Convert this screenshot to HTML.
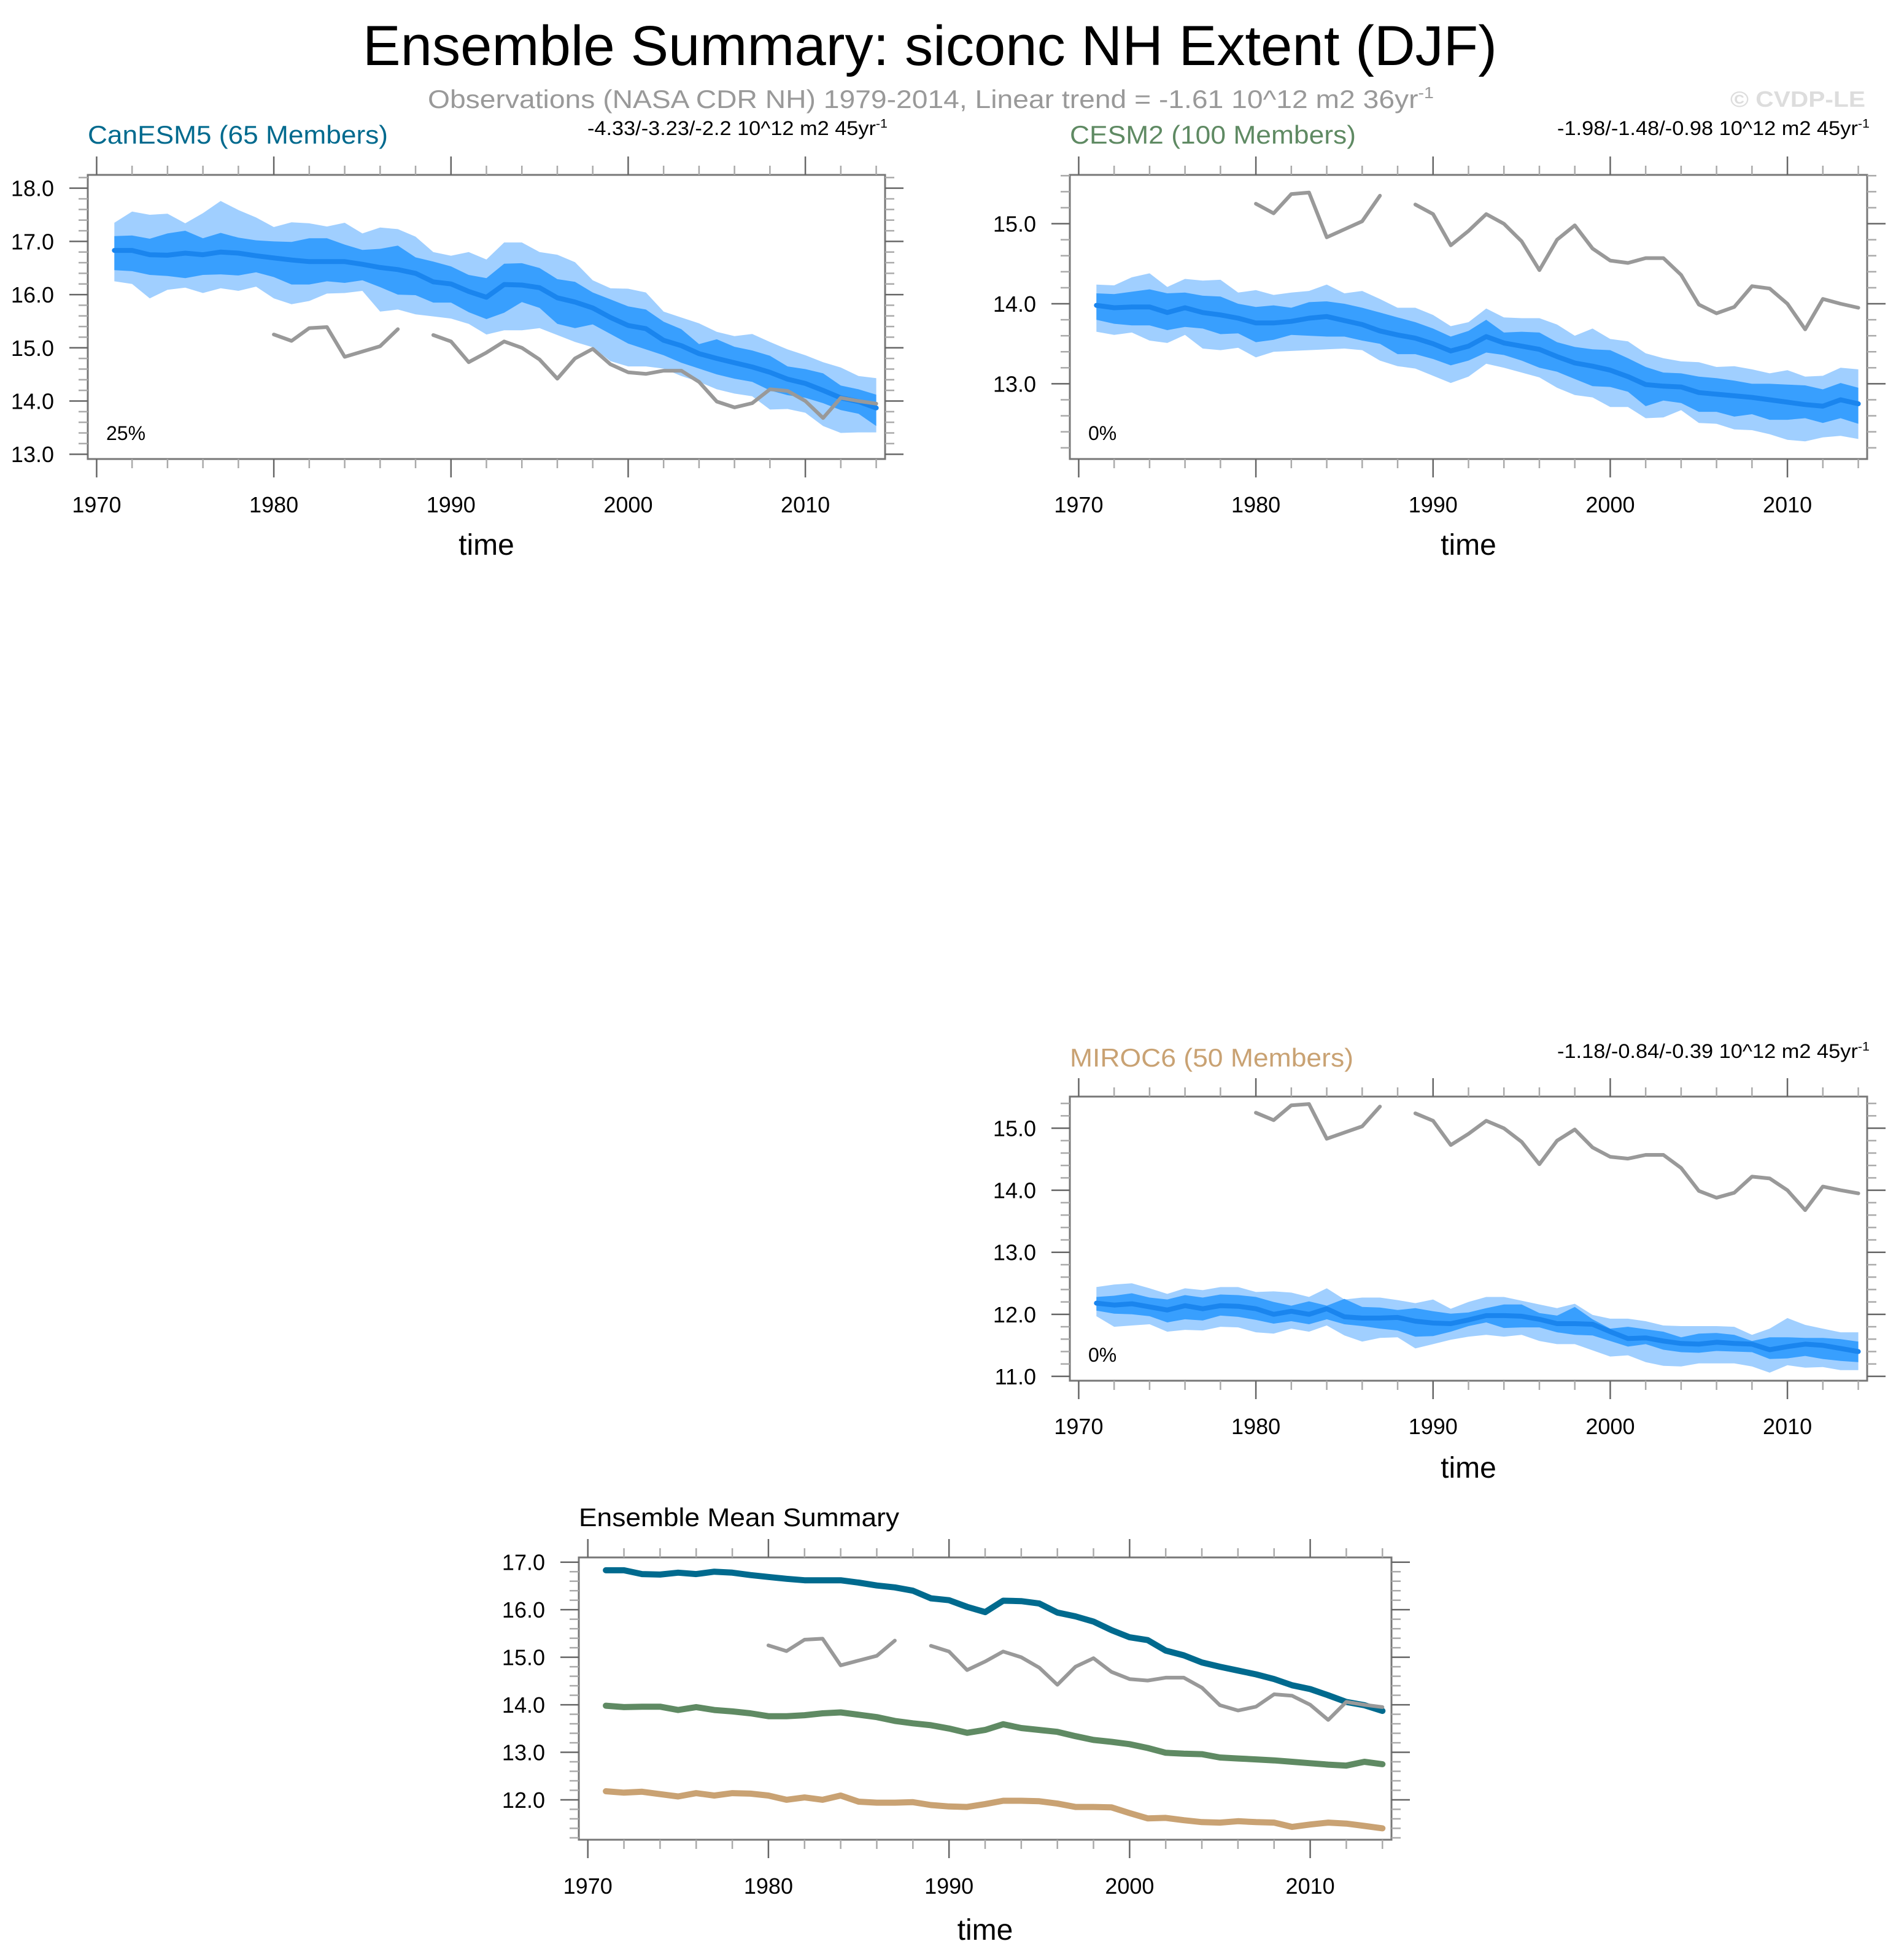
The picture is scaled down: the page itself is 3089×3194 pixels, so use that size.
<!DOCTYPE html>
<html><head><meta charset="utf-8"><title>Ensemble Summary</title>
<style>html,body{margin:0;padding:0;background:#fff}svg{display:block}</style></head>
<body>
<svg id="chart" xmlns="http://www.w3.org/2000/svg" width="3089" height="3194" viewBox="0 0 3089 3194" font-family="Liberation Sans, sans-serif">
<rect width="3089" height="3194" fill="#fff"/>
<text x="1515" y="106" font-size="92" text-anchor="middle" textLength="1848" lengthAdjust="spacingAndGlyphs">Ensemble Summary: siconc NH Extent (DJF)</text>
<text x="697" y="176" font-size="42" fill="#999" textLength="1639" lengthAdjust="spacingAndGlyphs">Observations (NASA CDR NH) 1979-2014, Linear trend = -1.61 10^12 m2 36yr<tspan font-size="26" dy="-16">-1</tspan></text>
<text x="2819" y="174" font-size="36" font-weight="bold" fill="#ddd" textLength="220" lengthAdjust="spacingAndGlyphs">© CVDP-LE</text>
<g id="plots"></g>
</svg>
<script>
const years = [];
for (let y = 1971; y <= 2014; y++) years.push(y);
const obsYears = [];
for (let y = 1980; y <= 2014; y++) obsYears.push(y);
const obs = [15.25,15.13,15.37,15.39,14.83,14.93,15.03,15.35,null,15.24,15.12,14.73,14.91,15.12,15.00,14.78,14.42,14.80,14.98,14.69,14.54,14.51,14.57,14.57,14.36,13.99,13.88,13.96,14.22,14.19,14.00,13.68,14.06,14.00,13.95];

const canMean = [16.83,16.83,16.75,16.74,16.78,16.75,16.80,16.78,16.73,16.69,16.65,16.62,16.62,16.62,16.57,16.51,16.47,16.40,16.24,16.20,16.06,15.95,16.19,16.18,16.13,15.94,15.86,15.75,15.57,15.42,15.36,15.14,15.04,14.89,14.80,14.72,14.64,14.54,14.41,14.33,14.20,14.06,13.99,13.87];
const canDarkHi = [17.10,17.11,17.05,17.15,17.20,17.06,17.16,17.07,17.02,17.00,16.99,17.06,17.06,16.94,16.84,16.86,16.92,16.70,16.62,16.53,16.37,16.31,16.58,16.59,16.50,16.29,16.24,16.04,15.91,15.78,15.72,15.49,15.35,15.07,15.16,15.02,14.95,14.85,14.65,14.60,14.52,14.29,14.22,14.12];
const canDarkLo = [16.46,16.44,16.37,16.35,16.31,16.37,16.38,16.36,16.42,16.33,16.19,16.19,16.25,16.22,16.27,16.14,16.00,15.99,15.85,15.85,15.67,15.54,15.66,15.86,15.75,15.45,15.37,15.44,15.26,15.08,14.97,14.86,14.72,14.61,14.50,14.42,14.36,14.20,14.11,14.06,13.96,13.83,13.76,13.53];
const canLightHi = [17.35,17.56,17.50,17.52,17.34,17.53,17.76,17.59,17.45,17.27,17.36,17.34,17.28,17.35,17.15,17.26,17.23,17.09,16.80,16.73,16.80,16.66,16.98,16.98,16.80,16.75,16.61,16.27,16.12,16.11,16.04,15.68,15.57,15.46,15.30,15.22,15.26,15.11,14.97,14.86,14.73,14.63,14.47,14.43];
const canLightLo = [16.25,16.20,15.93,16.09,16.13,16.03,16.12,16.07,16.15,15.93,15.82,15.88,16.02,16.03,16.07,15.68,15.72,15.63,15.59,15.55,15.45,15.25,15.33,15.33,15.37,15.24,15.11,15.01,14.75,14.65,14.65,14.61,14.47,14.36,14.22,14.14,14.09,13.84,13.85,13.78,13.53,13.40,13.41,13.41];

const cesmMean = [13.98,13.95,13.96,13.96,13.89,13.95,13.89,13.86,13.82,13.76,13.76,13.78,13.82,13.84,13.79,13.74,13.66,13.61,13.57,13.50,13.41,13.47,13.59,13.51,13.47,13.43,13.34,13.26,13.22,13.17,13.09,12.99,12.97,12.96,12.89,12.87,12.85,12.83,12.80,12.77,12.74,12.72,12.80,12.75];
const cesmDarkHi = [14.13,14.12,14.15,14.18,14.13,14.14,14.10,14.09,14.00,13.96,13.98,13.95,14.02,14.03,14.00,13.95,13.89,13.83,13.77,13.69,13.59,13.66,13.80,13.64,13.65,13.64,13.52,13.46,13.43,13.42,13.32,13.21,13.14,13.13,13.09,13.07,13.04,13.00,13.00,12.99,12.98,12.93,13.01,12.95];
const cesmDarkLo = [13.80,13.75,13.73,13.73,13.67,13.71,13.69,13.62,13.63,13.52,13.55,13.61,13.60,13.59,13.59,13.54,13.50,13.37,13.37,13.31,13.23,13.29,13.39,13.36,13.29,13.20,13.15,13.06,12.97,12.96,12.90,12.72,12.79,12.76,12.65,12.65,12.59,12.62,12.55,12.55,12.57,12.51,12.57,12.50];
const cesmLightHi = [14.24,14.23,14.33,14.38,14.21,14.31,14.29,14.30,14.14,14.17,14.11,14.14,14.16,14.24,14.13,14.16,14.06,13.95,13.95,13.86,13.72,13.77,13.94,13.83,13.82,13.82,13.74,13.60,13.69,13.56,13.53,13.38,13.32,13.28,13.27,13.21,13.22,13.18,13.13,13.17,13.09,13.10,13.20,13.18];
const cesmLightLo = [13.65,13.61,13.64,13.54,13.51,13.61,13.44,13.42,13.45,13.33,13.40,13.41,13.42,13.43,13.44,13.42,13.29,13.22,13.19,13.10,13.01,13.09,13.25,13.20,13.14,13.08,12.95,12.86,12.83,12.71,12.71,12.57,12.58,12.67,12.51,12.50,12.43,12.42,12.37,12.30,12.28,12.33,12.35,12.31];

const mirocMean = [12.18,12.15,12.17,12.12,12.07,12.14,12.09,12.14,12.13,12.09,12.00,12.05,12.00,12.09,11.96,11.94,11.94,11.95,11.89,11.86,11.85,11.91,11.98,11.98,11.97,11.92,11.85,11.85,11.84,11.72,11.61,11.62,11.57,11.53,11.52,11.55,11.53,11.52,11.43,11.48,11.52,11.50,11.45,11.40];
const mirocDarkHi = [12.28,12.30,12.34,12.27,12.24,12.31,12.27,12.32,12.31,12.28,12.20,12.14,12.21,12.14,12.25,12.12,12.11,12.07,12.10,12.05,12.01,12.03,12.10,12.16,12.16,12.02,11.98,12.12,11.92,11.77,11.80,11.76,11.72,11.63,11.69,11.70,11.67,11.57,11.63,11.63,11.62,11.62,11.60,11.56];
const mirocDarkLo = [12.06,12.01,12.00,11.97,11.87,11.92,11.90,11.98,11.96,11.91,11.85,11.89,11.84,11.92,11.84,11.81,11.77,11.74,11.64,11.65,11.72,11.81,11.87,11.78,11.79,11.79,11.71,11.67,11.66,11.57,11.48,11.52,11.43,11.39,11.38,11.41,11.40,11.39,11.28,11.29,11.33,11.28,11.25,11.23];
const mirocLightHi = [12.44,12.48,12.50,12.42,12.33,12.42,12.39,12.44,12.44,12.36,12.37,12.35,12.28,12.42,12.24,12.27,12.27,12.23,12.18,12.24,12.09,12.20,12.28,12.28,12.22,12.16,12.10,12.17,11.99,11.93,11.93,11.89,11.82,11.81,11.81,11.81,11.80,11.67,11.77,11.94,11.83,11.77,11.71,11.71];
const mirocLightLo = [11.97,11.80,11.82,11.84,11.72,11.75,11.74,11.80,11.79,11.71,11.69,11.77,11.72,11.82,11.66,11.56,11.62,11.63,11.45,11.52,11.59,11.64,11.67,11.64,11.67,11.57,11.52,11.52,11.42,11.32,11.34,11.23,11.17,11.16,11.21,11.21,11.21,11.16,11.06,11.18,11.14,11.15,11.10,11.10];

const xTickLabels = ["1970","1980","1990","2000","2010"];
const yTicks1 = ["13.0","14.0","15.0","16.0","17.0","18.0"];
const yTicks2 = ["13.0","14.0","15.0"];
const yTicks3 = ["11.0","12.0","13.0","14.0","15.0"];
const yTicks4 = ["12.0","13.0","14.0","15.0","16.0","17.0"];

const NS = "http://www.w3.org/2000/svg";
const root = document.getElementById('plots');
function mk(tag, attrs, parent) {
  const e = document.createElementNS(NS, tag);
  for (const k in attrs) e.setAttribute(k, attrs[k]);
  (parent || root).appendChild(e);
  return e;
}

function panel(p) {
  const g = mk('g', {});
  
  
  const x0 = p.left, x1 = p.left + p.w, y0 = p.top, y1 = p.top + p.h;
  const X = v => x0 + (v - 1969.5) / 45 * p.w;
  const Y = v => y1 - (v - p.ymin) / (p.ymax - p.ymin) * p.h;
  const cid = 'clip-' + p.name;
  const cp = mk('clipPath', {id: cid}, g);
  mk('rect', {x: x0, y: y0, width: p.w, height: p.h}, cp);
  const data = mk('g', {'clip-path': 'url(#' + cid + ')'}, g);
  function band(hi, lo, color, nm) {
    let d = '';
    years.forEach((yr, i) => { d += (i ? 'L' : 'M') + X(yr).toFixed(1) + ',' + Y(hi[i]).toFixed(1); });
    for (let i = years.length - 1; i >= 0; i--) d += 'L' + X(years[i]).toFixed(1) + ',' + Y(lo[i]).toFixed(1);
    const e = mk('path', {d: d + 'Z', fill: color}, data);
    
    
  }
  function line(xs, vals, color, wdt, nm) {
    let d = '', pen = false;
    xs.forEach((yr, i) => {
      const v = vals[i];
      if (v === null) { pen = false; return; }
      d += (pen ? 'L' : 'M') + X(yr).toFixed(1) + ',' + Y(v).toFixed(1);
      pen = true;
    });
    const e = mk('path', {d: d, fill: 'none', stroke: color, 'stroke-width': wdt, 'stroke-linejoin': 'round', 'stroke-linecap': 'round'}, data);
    
    
  }
  if (p.bands) {
    band(p.bands.lh, p.bands.ll, '#a0cfff', 'outer-range-band');
    band(p.bands.dh, p.bands.dl, '#389ffe', 'inner-range-band');
    line(years, p.bands.m, '#1a85ee', 8, 'ensemble-mean-line');
  }
  if (p.lines) p.lines.forEach(l => line(years, l.v, l.c, 10, l.n));
  line(obsYears, obs, '#999', 6, 'observations-line');
  const fr = mk('rect', {x: x0, y: y0, width: p.w, height: p.h, fill: 'none', stroke: '#777', 'stroke-width': 3}, g);
  
  
  for (let yr = 1970; yr <= 2014; yr += 2) {
    const maj = yr % 10 === 0, len = maj ? 30 : 15, x = X(yr);
    const col = maj ? '#666' : '#aaa';
    mk('line', {x1: x, x2: x, y1: y0, y2: y0 - len, stroke: col, 'stroke-width': 2.5}, g);
    mk('line', {x1: x, x2: x, y1: y1, y2: y1 + len, stroke: col, 'stroke-width': 2.5}, g);
  }
  xTickLabels.forEach(lbl => {
    const t = mk('text', {x: X(+lbl), y: y1 + p.xlabOff, 'font-size': 36, 'text-anchor': 'middle'}, g);
    t.textContent = lbl;
    
    
  });
  const start = Math.ceil(p.ymin * 5 - 1e-6), end = Math.floor(p.ymax * 5 + 1e-6);
  for (let k = start; k <= end; k++) {
    const v = k / 5, yy = Y(v), maj = k % 5 === 0, len = maj ? 30 : 15;
    const col = maj ? '#666' : '#aaa';
    mk('line', {x1: x0, x2: x0 - len, y1: yy, y2: yy, stroke: col, 'stroke-width': 2.5}, g);
    mk('line', {x1: x1, x2: x1 + len, y1: yy, y2: yy, stroke: col, 'stroke-width': 2.5}, g);
  }
  p.yt.forEach(lbl => {
    const t = mk('text', {x: x0 - 55, y: Y(+lbl) + 13, 'font-size': 36, 'text-anchor': 'end'}, g);
    t.textContent = lbl;
    
    
  });
  const tt = mk('text', {x: (x0 + x1) / 2, y: y1 + p.timeOff, 'font-size': 48, 'text-anchor': 'middle'}, g);
  tt.textContent = 'time';
  
  
  const ti = mk('text', {x: x0, y: p.titleY, 'font-size': 42, fill: p.tcol, textLength: p.tlen, lengthAdjust: 'spacingAndGlyphs'}, g);
  ti.textContent = p.title;
  
  
  if (p.trend) {
    const tr = mk('text', {x: x1 + 4 - p.trlen, y: p.titleY - 14, 'font-size': 32, textLength: p.trlen, lengthAdjust: 'spacingAndGlyphs'}, g);
    tr.textContent = p.trend;
    const sup = mk('tspan', {'font-size': 20, dy: -12}, tr);
    sup.textContent = '-1';
    
    
  }
  if (p.pct) {
    const pc = mk('text', {x: x0 + 30, y: y1 - 31, 'font-size': 32}, g);
    pc.textContent = p.pct;
    
    
  }
}

panel({name: 'canesm5-panel', left: 143, top: 285, w: 1299, h: 463, ymin: 12.91, ymax: 18.25, yt: yTicks1,
  bands: {m: canMean, dh: canDarkHi, dl: canDarkLo, lh: canLightHi, ll: canLightLo},
  title: 'CanESM5 (65 Members)', tcol: '#006a8e', tlen: 489, titleY: 234,
  trend: '-4.33/-3.23/-2.2 10^12 m2 45yr', trlen: 489, pct: '25%', xlabOff: 87, timeOff: 156});
panel({name: 'cesm2-panel', left: 1743, top: 285, w: 1299, h: 463, ymin: 12.06, ymax: 15.61, yt: yTicks2,
  bands: {m: cesmMean, dh: cesmDarkHi, dl: cesmDarkLo, lh: cesmLightHi, ll: cesmLightLo},
  title: 'CESM2 (100 Members)', tcol: '#5f8a63', tlen: 466, titleY: 234,
  trend: '-1.98/-1.48/-0.98 10^12 m2 45yr', trlen: 509, pct: '0%', xlabOff: 87, timeOff: 156});
panel({name: 'miroc6-panel', left: 1743, top: 1787, w: 1299, h: 463, ymin: 10.93, ymax: 15.51, yt: yTicks3,
  bands: {m: mirocMean, dh: mirocDarkHi, dl: mirocDarkLo, lh: mirocLightHi, ll: mirocLightLo},
  title: 'MIROC6 (50 Members)', tcol: '#c9a273', tlen: 462, titleY: 1738,
  trend: '-1.18/-0.84/-0.39 10^12 m2 45yr', trlen: 509, pct: '0%', xlabOff: 87, timeOff: 158});
panel({name: 'ensemble-mean-panel', left: 943, top: 2538, w: 1324, h: 460, ymin: 11.16, ymax: 17.1, yt: yTicks4,
  lines: [{v: canMean, c: '#006a8e', n: 'canesm5-mean-line'}, {v: cesmMean, c: '#5f8a63', n: 'cesm2-mean-line'}, {v: mirocMean, c: '#c9a273', n: 'miroc6-mean-line'}],
  title: 'Ensemble Mean Summary', tcol: '#000', tlen: 522, titleY: 2487, xlabOff: 88, timeOff: 163});
</script>
</body></html>
